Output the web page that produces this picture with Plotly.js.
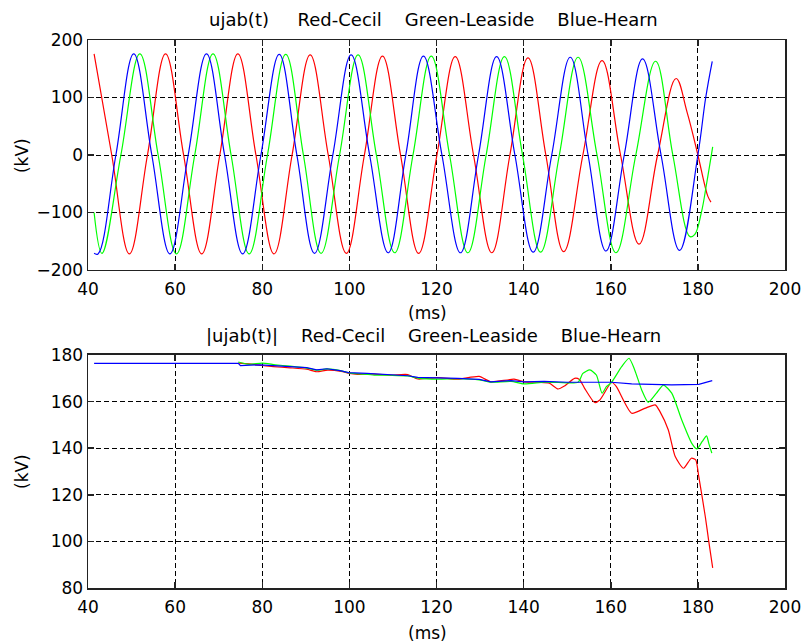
<!DOCTYPE html>
<html>
<head>
<meta charset="utf-8">
<script src="https://cdn.plot.ly/plotly-3.0.1.min.js"></script>
<style>html,body{margin:0;padding:0;background:#fff;}#chart{width:801px;height:643px;}</style>
</head>
<body>
<div id="chart"></div>
<script>
// ---- Top plot: ujab(t) (kV) vs time (ms) ----
const tRedTop = [41.4,45.45,49.5,53.65,57.8,61.95,66.1,70.25,74.4,78.55,82.7,86.85,91.0,95.15,99.3,103.45,107.6,111.75,115.9,120.1,124.3,128.5,132.7,136.85,141.0,145.1,149.2,153.6,158.0,162.25,166.5,170.75,175.0,177.5,180.0,181.5,182.3,183.0];
const vRedTop = [176,0,-172,0,176,0,-172,0,176,0,-172,0,174,0,-171,0,172,0,-171,0,171,0,-170,0,169,0,-168,0,164,0,-155,0,133,75,0,-50,-72,-82];

const tGreenTop = [41.4,43.2,47.55,51.9,56.1,60.3,64.5,68.7,72.85,77.0,81.2,85.4,89.45,93.5,97.75,102.0,106.2,110.4,114.6,118.8,123.0,127.2,131.4,135.6,139.75,143.9,148.2,152.5,156.85,161.2,165.75,170.3,174.25,178.2,179.3,180.8,182.0,183.4];
const vGreenTop = [-100,-171,0,176,0,-172,0,176,0,-172,0,175,0,-171,0,174,0,-170,0,172,0,-170,0,171,0,-169,0,170,0,-170,0,163,0,-142,-138,-100,-50,14];

const tBlueTop = [41.4,42.3,46.4,50.5,54.65,58.8,63.0,67.2,71.35,75.5,79.7,83.9,87.95,92.0,96.2,100.4,104.65,108.9,112.95,117.0,121.25,125.5,129.65,133.8,138.0,142.2,146.45,150.7,154.8,158.9,163.1,167.3,171.55,175.8,180.0,181.8,183.3];
const vBlueTop = [-171,-172,0,176,0,-172,0,176,0,-172,0,175,0,-171,0,174,0,-170,0,172,0,-170,0,171,0,-169,0,170,0,-167,0,167,0,-166,0,100,163];

// ---- Bottom plot: |ujab(t)| (kV) vs time (ms) ----
const tRedBot = [74.5,77,80,82.5,86.4,90.2,92.5,95,98.1,100,101.9,105.7,109.6,113.4,115.7,120.3,124.9,129.8,132.5,137.8,140.1,143.5,145.9,147.9,149.4,151.7,152.8,154.0,156.3,157.5,160.2,161.3,164.8,167.8,170.2,171.3,173.2,174.8,176.7,178.5,179.5,180.2,181.7,182.5,183.4];
const vRedBot = [176.5,176.2,175.5,175.0,174.5,173.9,172.8,173.5,173.0,172.1,171.7,171.8,171.4,171.6,169.7,170.3,169.6,170.8,168.5,169.6,168.5,168.3,167.9,165.4,166.7,170.0,169.5,165.7,159.6,160.7,168.3,166.4,155.0,157.1,158.6,155.7,147.9,136.4,131.4,135.7,135.0,127.9,110.7,100.0,88.6];

const tGreenBot = [74.5,77,80,83,86.4,90.2,92.5,95,98.1,100,103,105.7,109.6,113.4,116,120.3,124.9,129.8,132.5,137.1,140.1,144.7,148,152.5,153.6,155.2,156.7,158.0,159.0,160.2,162.5,164.2,165.5,167.1,168.6,170.5,172.1,174.0,176.3,178.6,179.8,181.0,182.0,182.5,183.2];
const vGreenBot = [177.0,176.0,176.5,175.8,175.2,174.4,173.5,174.0,173.2,172.3,171.8,171.4,171.3,171.0,170.0,169.6,169.8,169.3,168.3,168.7,167.6,168.3,168.2,168.3,172.1,173.6,171.4,163.6,166.4,168.3,175.0,178.6,173.6,165.0,159.7,163.6,167.1,163.6,152.1,142.1,139.7,142.9,145.3,142.1,137.9];

const tBlueBot = [41.4,74.5,75.0,79.5,82.5,86.4,90.2,92.5,94.8,97.9,99.8,104.0,110.1,113.4,115.7,120.3,124.9,129.8,132.5,137.1,140.1,144.7,150,157.1,160.2,164.8,174.0,180.2,183.3];
const vBlueBot = [176.4,176.4,175.4,175.8,175.4,175.0,174.6,173.6,174.1,173.3,172.4,172.1,171.4,171.1,170.4,170.3,170.0,169.5,168.5,169.0,168.5,168.7,168.3,168.3,168.3,167.6,167.2,167.4,169.0];

const xTicks = [40,60,80,100,120,140,160,180,200];
const topTitle = "ujab(t)\u00a0\u00a0\u00a0\u00a0\u00a0Red-Cecil\u00a0\u00a0\u00a0\u00a0Green-Leaside\u00a0\u00a0\u00a0\u00a0Blue-Hearn";
const botTitle = "|ujab(t)|\u00a0\u00a0\u00a0\u00a0Red-Cecil\u00a0\u00a0\u00a0\u00a0Green-Leaside\u00a0\u00a0\u00a0\u00a0Blue-Hearn";

const RED = '#ff0000', GREEN = '#00ff00', BLUE = '#0000ff';
const lw = 1.2;

const traces = [
  {x: tRedTop, y: vRedTop, xaxis:'x', yaxis:'y', mode:'lines', line:{color:RED, width:lw, shape:'spline', smoothing:1.1}},
  {x: tGreenTop, y: vGreenTop, xaxis:'x', yaxis:'y', mode:'lines', line:{color:GREEN, width:lw, shape:'spline', smoothing:1.1}},
  {x: tBlueTop, y: vBlueTop, xaxis:'x', yaxis:'y', mode:'lines', line:{color:BLUE, width:lw, shape:'spline', smoothing:1.1}},
  {x: tRedBot, y: vRedBot, xaxis:'x2', yaxis:'y2', mode:'lines', line:{color:RED, width:lw, shape:'spline', smoothing:0.6}},
  {x: tGreenBot, y: vGreenBot, xaxis:'x2', yaxis:'y2', mode:'lines', line:{color:GREEN, width:lw, shape:'spline', smoothing:0.6}},
  {x: tBlueBot, y: vBlueBot, xaxis:'x2', yaxis:'y2', mode:'lines', line:{color:BLUE, width:lw}}
];

const F = {family:'DejaVu Sans, Arial, sans-serif', size:17, color:'#000'};
const FT = {family:'DejaVu Sans, Arial, sans-serif', size:18, color:'#000'};
function ax(extra){
  return Object.assign({
    showline:true, linecolor:'#222', linewidth:1.5, mirror:'ticks',
    ticks:'inside', ticklen:6, tickcolor:'#222', tickwidth:1.5,
    showgrid:true, gridcolor:'#000', gridwidth:1, griddash:'5px,3px',
    zeroline:false, tickfont:F, fixedrange:true, ticklabeloverflow:'allow'
  }, extra);
}

const layout = {
  width:801, height:643,
  margin:{l:88, r:16, t:40, b:55},
  paper_bgcolor:'#fff', plot_bgcolor:'#fff',
  showlegend:false,
  font:F,
  xaxis: ax({domain:[0,1], range:[40,200], tickvals:xTicks, anchor:'y', ticklabelstandoff:3}),
  yaxis: ax({domain:[0.5803,1], range:[-200,200], tickvals:[-200,-100,0,100,200], anchor:'x'}),
  xaxis2: ax({domain:[0,1], range:[40,200], tickvals:xTicks, anchor:'y2', ticklabelstandoff:3}),
  yaxis2: ax({domain:[0,0.4252], range:[80,180], tickvals:[80,100,120,140,160,180], anchor:'x2'}),
  annotations:[
    {text:topTitle, xref:'paper', yref:'paper', x:0.4957, y:1.0365, xanchor:'center', yanchor:'middle', showarrow:false, font:FT},
    {text:botTitle, xref:'paper', yref:'paper', x:0.495, y:0.4599, xanchor:'center', yanchor:'middle', showarrow:false, font:FT},
    {text:'(ms)', xref:'paper', yref:'paper', x:0.4878, y:0.5018, xanchor:'center', yanchor:'middle', showarrow:false, font:F},
    {text:'(ms)', xref:'paper', yref:'paper', x:0.4878, y:-0.0821, xanchor:'center', yanchor:'middle', showarrow:false, font:F},
    {text:'(kV)', xref:'paper', yref:'paper', x:-0.0947, y:0.790, xanchor:'center', yanchor:'middle', textangle:-90, showarrow:false, font:F},
    {text:'(kV)', xref:'paper', yref:'paper', x:-0.0947, y:0.2135, xanchor:'center', yanchor:'middle', textangle:-90, showarrow:false, font:F}
  ]
};

Plotly.newPlot('chart', traces, layout, {displayModeBar:false, staticPlot:true});
</script>
</body>
</html>
